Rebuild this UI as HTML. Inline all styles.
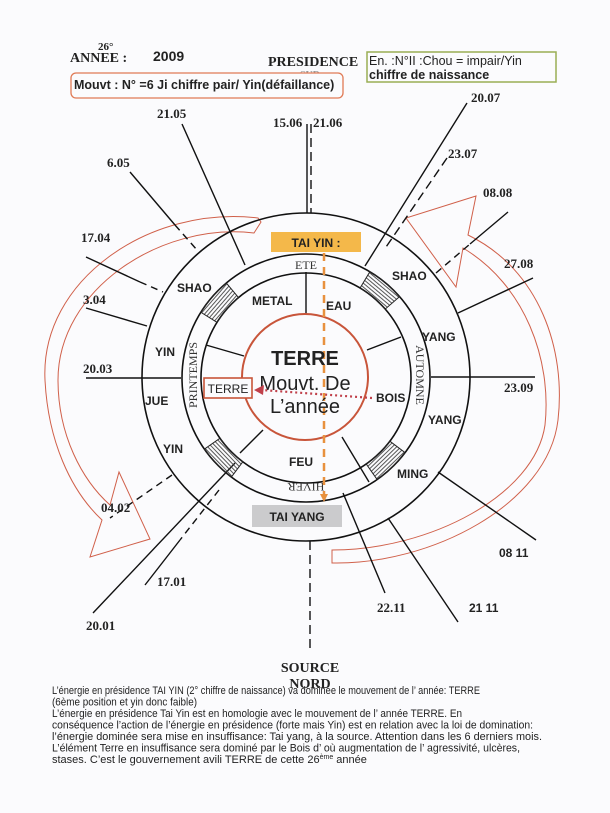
<!DOCTYPE html>
<html><head><meta charset="utf-8"><style>
html,body{margin:0;padding:0;background:#fbfbfd;}
svg{display:block;}
.d{font-family:"Liberation Serif",serif;font-weight:bold;font-size:13px;fill:#222;}
.l{font-family:"Liberation Sans",sans-serif;font-weight:bold;font-size:12px;fill:#222;}
.p{font-family:"Liberation Sans",sans-serif;font-size:11px;fill:#222;}
.s{font-family:"Liberation Serif",serif;font-size:12px;fill:#333;}
</style></head><body>
<svg width="610" height="813" viewBox="0 0 610 813" xmlns="http://www.w3.org/2000/svg">
<defs>
<pattern id="h" width="3" height="3" patternUnits="userSpaceOnUse"><line x1="1.5" y1="0" x2="1.5" y2="3" stroke="#444" stroke-width="0.9"/></pattern>
</defs>
<rect width="610" height="813" fill="#fbfbfd"/>

<!-- header -->
<text x="98" y="50" class="d" style="font-size:11px">26°</text>
<text x="70" y="62" class="d" style="font-size:14px">ANNEE :</text>
<text x="153" y="61" class="l" style="font-size:14px">2009</text>
<text x="268" y="66" class="d" style="font-size:14px">PRESIDENCE</text>
<text x="300" y="78" class="d" style="font-size:10px;fill:#999">SUD</text>
<rect x="367" y="52" width="189" height="30" fill="#fbfbfd" stroke="#9aae55" stroke-width="1.5"/>
<text x="369" y="65" class="l" style="font-size:12.5px;font-weight:normal">En. :N°II :Chou = impair/Yin</text>
<text x="369" y="79" class="l" style="font-size:12.5px">chiffre de naissance</text>
<rect x="71" y="73" width="272" height="25" rx="5" fill="#fbfbfd" stroke="#e07a55" stroke-width="1.3"/>
<text x="74" y="89" class="l" style="font-size:12.5px">Mouvt : N° =6 Ji chiffre pair/ Yin(défaillance)</text>

<!-- red arrows -->
<g fill="none" stroke="#d0604a" stroke-width="1">
<path d="M258,218 C150,205 40,280 45,380 C48,440 70,490 102,520 L90,557 L150,539 L119,472 L110,505 C82,480 58,435 58,380 C58,290 160,222 254,233 L261,222 Z"/>
<path d="M468,235 L476,196 L406,218 L456,287 L463,248 C525,285 552,360 545,425 C535,495 430,550 332,550 L332,563 C430,565 548,505 558,420 C566,350 540,270 468,235 Z"/>
</g>

<!-- spokes -->
<g stroke="#111" stroke-width="1.4" fill="none">
<line x1="307" y1="124" x2="307" y2="213"/>
<line x1="311" y1="124" x2="311" y2="213" stroke-dasharray="9,5"/>
<line x1="310" y1="541" x2="310" y2="653" stroke-dasharray="9,5"/>
<line x1="182" y1="124" x2="245" y2="265"/>
<line x1="130" y1="172" x2="175" y2="225"/>
<line x1="175" y1="225" x2="197" y2="250" stroke-dasharray="7,5"/>
<line x1="86" y1="257" x2="140" y2="282"/>
<line x1="140" y1="282" x2="163" y2="292" stroke-dasharray="7,5"/>
<line x1="86" y1="308" x2="147" y2="326"/>
<line x1="86" y1="378" x2="181" y2="378"/>
<line x1="431" y1="377" x2="535" y2="377"/>
<line x1="458" y1="313" x2="533" y2="278"/>
<line x1="436" y1="273" x2="470" y2="244" stroke-dasharray="7,5"/>
<line x1="470" y1="244" x2="508" y2="212"/>
<line x1="467" y1="103" x2="365" y2="266"/>
<line x1="447" y1="158" x2="384" y2="250" stroke-dasharray="9,5"/>
<line x1="438" y1="472" x2="536" y2="540"/>
<line x1="388" y1="518" x2="458" y2="622"/>
<line x1="343" y1="493" x2="385" y2="593"/>
<line x1="235" y1="463" x2="93" y2="613"/>
<line x1="219" y1="490" x2="180" y2="540" stroke-dasharray="7,5"/>
<line x1="180" y1="540" x2="145" y2="585"/>
<line x1="172" y1="475" x2="110" y2="518" stroke-dasharray="7,5"/>
<line x1="306" y1="272" x2="306" y2="314"/>
<line x1="206" y1="345" x2="244" y2="356"/>
<line x1="367" y1="350" x2="401" y2="337"/>
<line x1="263" y1="430" x2="240" y2="453"/>
<line x1="342" y1="437" x2="369" y2="482"/>
</g>

<!-- circles -->
<g fill="none" stroke="#111" stroke-width="1.6">
<circle cx="306" cy="377" r="164"/>
<circle cx="306" cy="378" r="124"/>
<circle cx="306" cy="378" r="105"/>
</g>
<circle cx="305" cy="377" r="63" fill="none" stroke="#c8553a" stroke-width="2"/>

<!-- hatched sectors -->
<g stroke="#222" stroke-width="1" fill="url(#h)">
<path transform="translate(306,378) rotate(221)" d="M103.7,-16.4 L122.5,-19.4 A124,124 0 0 1 122.5,19.4 L103.7,16.4 A105,105 0 0 0 103.7,-16.4 Z"/>
<path transform="translate(306,378) rotate(310)" d="M103.7,-16.4 L122.5,-19.4 A124,124 0 0 1 122.5,19.4 L103.7,16.4 A105,105 0 0 0 103.7,-16.4 Z"/>
<path transform="translate(306,378) rotate(136)" d="M103.7,-16.4 L122.5,-19.4 A124,124 0 0 1 122.5,19.4 L103.7,16.4 A105,105 0 0 0 103.7,-16.4 Z"/>
<path transform="translate(306,378) rotate(46)" d="M103.7,-16.4 L122.5,-19.4 A124,124 0 0 1 122.5,19.4 L103.7,16.4 A105,105 0 0 0 103.7,-16.4 Z"/>
</g>

<!-- season labels -->
<text x="306" y="269" class="s" text-anchor="middle">ETE</text>
<text class="s" text-anchor="middle" transform="translate(197,375) rotate(-90)">PRINTEMPS</text>
<text class="s" text-anchor="middle" transform="translate(416,375) rotate(90)">AUTOMNE</text>
<text class="s" text-anchor="middle" transform="translate(306,483) rotate(180)">HIVER</text>

<!-- boxes -->
<rect x="271" y="232" width="90" height="20" fill="#f4b84a"/>
<text x="316" y="247" class="l" text-anchor="middle">TAI YIN :</text>
<rect x="252" y="505" width="90" height="22" fill="#cbcbcd"/>
<text x="297" y="521" class="l" text-anchor="middle">TAI YANG</text>
<line x1="324" y1="253" x2="324" y2="495" stroke="#e8913e" stroke-width="2.5" stroke-dasharray="8,6"/>
<polygon points="320,494 328,494 324,502" fill="#e8913e"/>

<!-- labels -->
<text x="177" y="292" class="l">SHAO</text>
<text x="252" y="305" class="l">METAL</text>
<text x="326" y="310" class="l">EAU</text>
<text x="392" y="280" class="l">SHAO</text>
<text x="422" y="341" class="l">YANG</text>
<text x="155" y="356" class="l">YIN</text>
<text x="145" y="405" class="l">JUE</text>
<text x="376" y="402" class="l">BOIS</text>
<text x="428" y="424" class="l">YANG</text>
<text x="163" y="453" class="l">YIN</text>
<text x="289" y="466" class="l">FEU</text>
<text x="397" y="478" class="l">MING</text>

<text x="305" y="365" class="l" style="font-size:20px" text-anchor="middle">TERRE</text>
<text x="305" y="390" class="l" style="font-size:20px;font-weight:normal" text-anchor="middle">Mouvt. De</text>
<text x="305" y="413" class="l" style="font-size:20px;font-weight:normal" text-anchor="middle">L’année</text>

<rect x="204" y="378" width="48" height="20" fill="#fbfbfd" stroke="#c8553a" stroke-width="1.6"/>
<text x="228" y="393" class="l" text-anchor="middle" style="font-weight:normal">TERRE</text>
<line x1="372" y1="398" x2="262" y2="390" stroke="#c0404a" stroke-width="2.2" stroke-dasharray="2,3"/>
<polygon points="254,390 264,385 263,395" fill="#c0404a"/>

<!-- dates -->
<text x="157" y="118" class="d">21.05</text>
<text x="273" y="127" class="d">15.06</text>
<text x="313" y="127" class="d">21.06</text>
<text x="471" y="102" class="d">20.07</text>
<text x="448" y="158" class="d">23.07</text>
<text x="107" y="167" class="d">6.05</text>
<text x="483" y="197" class="d">08.08</text>
<text x="81" y="242" class="d">17.04</text>
<text x="504" y="268" class="d">27.08</text>
<text x="83" y="304" class="d">3.04</text>
<text x="83" y="373" class="d">20.03</text>
<text x="504" y="392" class="d">23.09</text>
<text x="101" y="512" class="d">04.02</text>
<text x="499" y="557" class="l">08 11</text>
<text x="157" y="586" class="d">17.01</text>
<text x="377" y="612" class="d">22.11</text>
<text x="469" y="612" class="l">21 11</text>
<text x="86" y="630" class="d">20.01</text>

<text x="310" y="672" class="d" style="font-size:14px" text-anchor="middle">SOURCE</text>
<text x="310" y="688" class="d" style="font-size:14px" text-anchor="middle">NORD</text>

<!-- paragraph -->
<text x="52" y="694" class="p" textLength="428" lengthAdjust="spacingAndGlyphs">L’énergie en présidence TAI YIN (2° chiffre de naissance) va dominée le mouvement de l’ année: TERRE</text>
<text x="52" y="705.5" class="p" textLength="145" lengthAdjust="spacingAndGlyphs">(6ème  position et yin donc faible)</text>
<text x="52" y="717" class="p" textLength="410" lengthAdjust="spacingAndGlyphs">L’énergie en présidence Tai Yin est en homologie avec le mouvement de l’ année TERRE. En</text>
<text x="52" y="728.5" class="p" textLength="481" lengthAdjust="spacingAndGlyphs">conséquence l’action de l’énergie en présidence (forte mais Yin) est en relation avec la loi de domination:</text>
<text x="52" y="740" class="p" textLength="490" lengthAdjust="spacingAndGlyphs">l’énergie dominée sera mise en insuffisance: Tai yang, à la source. Attention dans les 6 derniers mois.</text>
<text x="52" y="751.5" class="p" textLength="468" lengthAdjust="spacingAndGlyphs">L’élément Terre en insuffisance sera dominé par le Bois d’ où augmentation de l’ agressivité, ulcères,</text>
<text x="52" y="763" class="p">stases. C’est le gouvernement avili TERRE de cette 26<tspan style="font-size:7px" dy="-4">ème</tspan><tspan dy="4"> année</tspan></text>
</svg>
</body></html>
